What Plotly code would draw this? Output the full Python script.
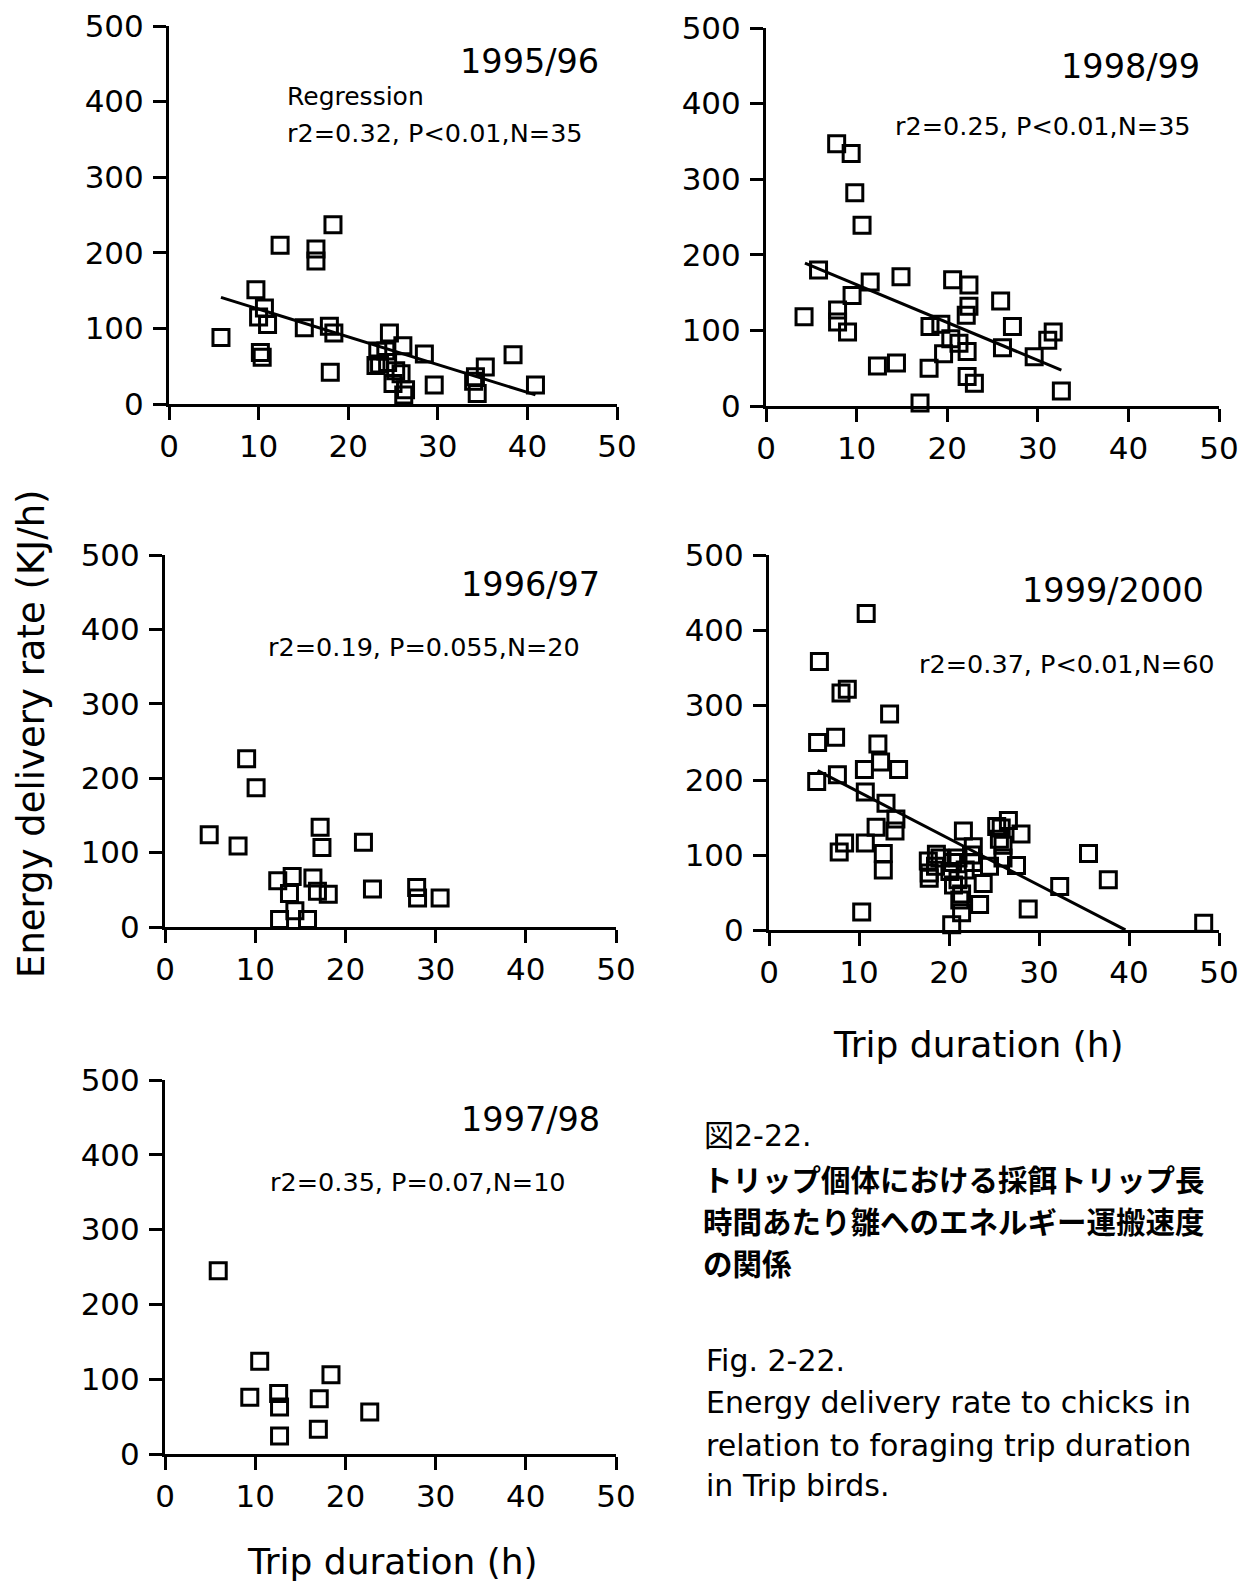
import plotly.graph_objects as go

W, H = 1253, 1585

# ---------------- data ----------------
p1_x = [5.8, 9.7, 12.4, 16.4, 16.4, 18.3, 10.65, 10.0, 11.0, 10.2, 10.4, 15.1, 17.9, 18.4, 18.0,
        24.6, 23.3, 23.5, 24.4, 26.1, 25.3, 25.9, 26.4, 26.2, 28.5, 29.6, 34.2, 34.4, 35.3, 38.4,
        40.9, 24.2, 23.1, 25.0, 34.0]
p1_y = [88, 151, 210, 205, 189, 237, 127, 115, 105, 68, 62, 101, 103, 94, 42,
        94, 70, 53, 55, 77, 44, 40, 19, 12, 66, 25, 36, 14, 49, 65,
        25, 70, 51, 27, 30]

p2_x = [7.8, 9.4, 9.8, 10.6, 5.8, 4.2, 11.5, 9.5, 7.9, 7.9, 9.0, 14.9, 12.3, 14.4, 20.6,
        22.4, 22.4, 22.1, 25.9, 27.2, 18.1, 19.3, 20.4, 19.6, 22.2, 18.0, 22.2, 23.0, 17.0, 26.1,
        29.6, 31.1, 31.7, 32.6, 21.3]
p2_y = [347, 334, 282, 239, 180, 118, 164, 146, 127, 111, 98, 171, 53, 57, 167,
        160, 132, 120, 139, 105, 105, 108, 89, 69, 72, 50, 39, 30, 4, 77,
        65, 87, 98, 20, 83]

p3_x = [9.05, 10.1, 4.9, 8.1, 17.2, 17.4, 22.0, 12.5, 14.1, 16.4, 13.8, 16.9, 18.1, 23.0, 27.9,
        28.0, 30.5, 14.4, 12.7, 15.8]
p3_y = [226, 187, 124, 109, 134, 107, 114, 62, 68, 66, 45, 48, 44, 51, 53,
        39, 39, 22, 10, 10]

p4_x = [10.8, 5.6, 8.0, 8.7, 13.4, 5.4, 7.4, 12.1, 12.4, 14.4, 10.6, 5.3, 7.6, 10.7, 13.0,
        14.1, 14.0, 11.9, 8.4, 7.8, 10.7, 12.7, 12.7, 10.3,
        21.6, 22.7, 18.6, 17.7, 17.8, 17.8, 21.0, 22.7, 20.1, 21.0, 23.8, 23.4, 21.4, 21.4, 20.3,
        26.6, 25.8, 28.0, 26.0, 26.0, 27.5, 28.8, 32.3, 35.5, 37.7, 48.3,
        19.0, 20.4, 21.8, 25.3, 25.6, 22.5, 20.5, 18.5, 24.5, 21.2]
p4_y = [422, 358, 316, 321, 288, 250, 257, 248, 224, 214, 214, 198, 207, 184, 169,
        148, 132, 137, 116, 104, 116, 102, 80, 24,
        132, 111, 101, 92, 76, 69, 96, 90, 78, 67, 62, 34, 48, 23, 7,
        146, 136, 128, 113, 96, 86, 28, 58, 102, 67, 9,
        96, 90, 80, 138, 121, 100, 60, 85, 85, 40]

p5_x = [5.9, 10.5, 9.4, 12.6, 12.7, 12.7, 17.1, 17.0, 18.4, 22.7]
p5_y = [245, 124, 76, 81, 63, 24, 74, 33, 106, 56]

# regression lines: (intercept, slope, x-start, x-end)
reg1 = (162.3, -3.675, 5.8, 40.9)
reg2 = (210.5, -5.0, 4.3, 32.6)
reg4 = (246.0, -6.21, 5.4, 39.6)

years = ["1995/96", "1998/99", "1996/97", "1999/2000", "1997/98"]
stats = ["r2=0.32, P<0.01,N=35", "r2=0.25, P<0.01,N=35", "r2=0.19, P=0.055,N=20",
         "r2=0.37, P<0.01,N=60", "r2=0.35, P=0.07,N=10"]

x_ticks = [0, 10, 20, 30, 40, 50]
y_ticks = [0, 100, 200, 300, 400, 500]

caption_jp = ["図2-22.",
              "トリップ個体における採餌トリップ長",
              "時間あたり雛へのエネルギー運搬速度",
              "の関係"]
caption_en = ["Fig. 2-22.",
              "Energy delivery rate to chicks in",
              "relation to foraging trip duration",
              "in Trip birds."]

FONT = "DejaVu Sans"
JP = "Noto Sans CJK JP"

# panel pixel boxes: (left, right, top, bottom)
boxes = [
    (169, 617, 26, 404),
    (766, 1219, 28, 406),
    (165, 616, 555, 927),
    (769, 1219, 555, 930),
    (165, 616, 1080, 1454),
]

fig = go.Figure()

panels = [(p1_x, p1_y, reg1), (p2_x, p2_y, reg2), (p3_x, p3_y, None),
          (p4_x, p4_y, reg4), (p5_x, p5_y, None)]

for i, (px, py, reg) in enumerate(panels):
    n = i + 1
    xa = "x" if n == 1 else f"x{n}"
    ya = "y" if n == 1 else f"y{n}"
    fig.add_trace(go.Scatter(
        x=px, y=py, mode="markers", xaxis=xa, yaxis=ya, cliponaxis=False,
        marker=dict(symbol="square-open", size=16, color="black",
                    line=dict(width=3, color="black")),
        showlegend=False, hoverinfo="x+y"))
    if reg is not None:
        a, b, x0, x1 = reg
        fig.add_trace(go.Scatter(
            x=[x0, x1], y=[a + b * x0, a + b * x1], mode="lines",
            xaxis=xa, yaxis=ya, cliponaxis=False,
            line=dict(color="black", width=3), showlegend=False, hoverinfo="skip"))

layout = dict(
    template="none",
    width=W, height=H, margin=dict(l=0, r=0, t=0, b=0, autoexpand=False),
    paper_bgcolor="white", plot_bgcolor="white",
    font=dict(family=FONT, color="black"),
    showlegend=False,
)

for i, (l, r, t, b) in enumerate(boxes):
    n = i + 1
    xk = "xaxis" if n == 1 else f"xaxis{n}"
    yk = "yaxis" if n == 1 else f"yaxis{n}"
    xa = "x" if n == 1 else f"x{n}"
    ya = "y" if n == 1 else f"y{n}"
    layout[xk] = dict(
        domain=[l / W, r / W], anchor=ya, range=[0, 50], tickvals=x_ticks,
        automargin=False,
        showgrid=False, zeroline=False, showline=True, linecolor="black", linewidth=3,
        ticks="outside", ticklen=13, tickwidth=3, tickcolor="black",
        tickfont=dict(size=31, family=FONT, color="black"), ticklabelstandoff=0)
    layout[yk] = dict(
        domain=[1 - b / H, 1 - t / H], anchor=xa, range=[0, 500], tickvals=y_ticks,
        automargin=False,
        showgrid=False, zeroline=False, showline=True, linecolor="black", linewidth=3,
        ticks="outside", ticklen=13, tickwidth=3, tickcolor="black",
        tickfont=dict(size=31, family=FONT, color="black"), ticklabelstandoff=3)

fig.update_layout(**layout)

ann = []
def txt(x, y, s, size, xanchor="left", family=FONT, angle=0):
    ann.append(dict(x=x / W, y=1 - y / H, xref="paper", yref="paper", text=s,
                    showarrow=False, xanchor=xanchor, yanchor="middle", align="left",
                    font=dict(size=size, family=family, color="black"), textangle=angle))

year_pos = [(601, 61), (1202, 66), (602, 584), (1206, 591), (602, 1119)]
stat_pos = [(285, 133), (893, 126), (266, 647), (917, 664), (268, 1182)]
for (xx, yy), s in zip(year_pos, years):
    txt(xx, yy, s, 33.5, xanchor="right")
for (xx, yy), s in zip(stat_pos, stats):
    txt(xx, yy, s, 25.5)
txt(285, 96, "Regression", 25)

txt(32, 734, "Energy delivery rate (KJ/h)", 37, xanchor="center", angle=-90)
txt(978, 1044, "Trip duration (h)", 36, xanchor="center")
txt(392, 1561, "Trip duration (h)", 36, xanchor="center")

jp_y = [1135, 1178, 1220, 1262]
txt(702, jp_y[0], caption_jp[0], 30, family=f"{FONT}, {JP}")
for yy, s in zip(jp_y[1:], caption_jp[1:]):
    txt(701, yy, f"<b>{s}</b>", 29.5, family=JP)

en_y = [1360, 1402, 1445, 1485]
for yy, s in zip(en_y, caption_en):
    txt(704, yy, s, 30)

fig.update_layout(annotations=ann)

fig.write_html("out.html")
